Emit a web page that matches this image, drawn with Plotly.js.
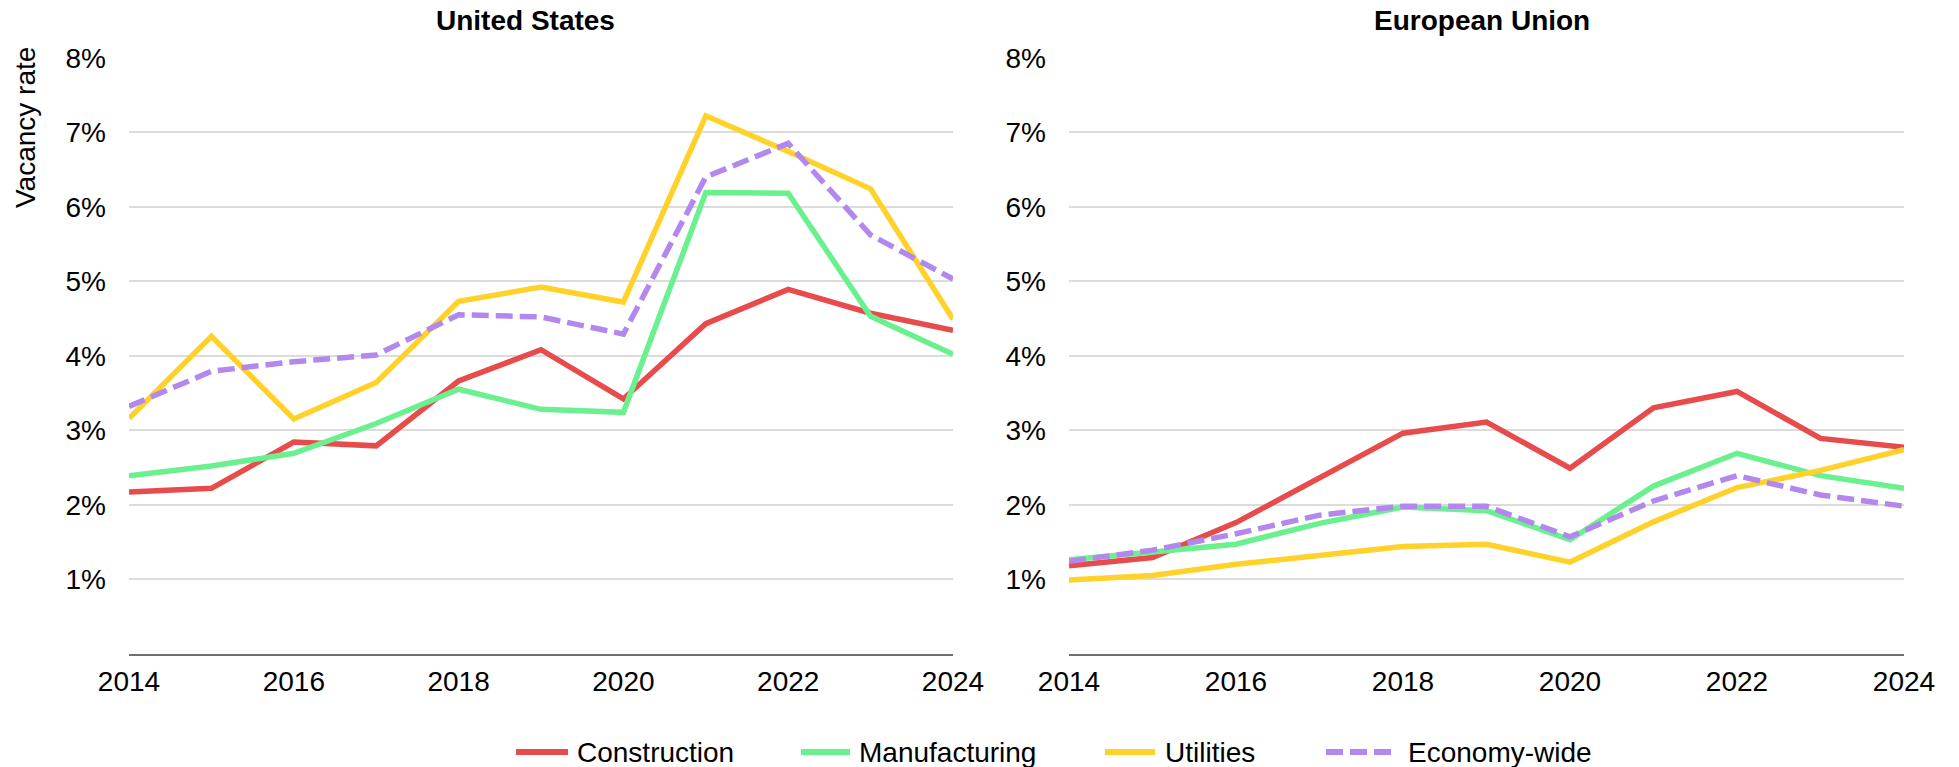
<!DOCTYPE html>
<html>
<head>
<meta charset="utf-8">
<script src="https://cdn.plot.ly/plotly-3.0.1.min.js"></script>
<style>html,body{margin:0;padding:0;background:#fff;}#chart{width:1959px;height:767px;}</style>
</head>
<body>
<div id="chart"></div>
<script>
// ---- Data ----
const years = [2014, 2015, 2016, 2017, 2018, 2019, 2020, 2021, 2022, 2023, 2024];
const seriesNames = ["Construction", "Manufacturing", "Utilities", "Economy-wide"];
const panelTitles = ["United States", "European Union"];
const yTickVals = [1, 2, 3, 4, 5, 6, 7, 8];
const yTickText = ["1%", "2%", "3%", "4%", "5%", "6%", "7%", "8%"];
const xTickVals = [2014, 2016, 2018, 2020, 2022, 2024];
const xTickText = ["2014", "2016", "2018", "2020", "2022", "2024"];

const usConstruction   = [2.17, 2.22, 2.84, 2.79, 3.66, 4.08, 3.42, 4.43, 4.89, 4.57, 4.34];
const usManufacturing  = [2.39, 2.52, 2.69, 3.09, 3.55, 3.28, 3.24, 6.19, 6.18, 4.53, 4.02];
const usUtilities      = [3.16, 4.26, 3.15, 3.64, 4.73, 4.92, 4.72, 7.22, 6.74, 6.24, 4.49];
const usEconomy        = [3.32, 3.79, 3.92, 4.01, 4.55, 4.52, 4.29, 6.40, 6.85, 5.62, 5.03];

const euConstruction   = [1.18, 1.29, 1.76, 2.36, 2.96, 3.11, 2.49, 3.30, 3.52, 2.89, 2.77];
const euManufacturing  = [1.26, 1.36, 1.47, 1.75, 1.97, 1.92, 1.53, 2.25, 2.69, 2.39, 2.22];
const euUtilities      = [0.99, 1.05, 1.20, 1.32, 1.44, 1.47, 1.23, 1.77, 2.23, 2.46, 2.74];
const euEconomy        = [1.24, 1.39, 1.61, 1.86, 1.98, 1.98, 1.57, 2.05, 2.39, 2.13, 1.98];

// ---- Styles ----
const colors = ["#E84B4B", "#6BF090", "#FFD22B", "#B388EE"];
const dashes = ["solid", "solid", "solid", "17px,7px"];
const FONT = "Liberation Sans, Arial, sans-serif";
const W = 1959, H = 767;

const usSeries = [usConstruction, usManufacturing, usUtilities, usEconomy];
const euSeries = [euConstruction, euManufacturing, euUtilities, euEconomy];

const traces = [];
[usSeries, euSeries].forEach((panel, p) => {
  panel.forEach((vals, i) => {
    traces.push({
      type: "scatter", mode: "lines",
      x: years, y: vals, name: seriesNames[i],
      xaxis: p === 0 ? "x" : "x2", yaxis: p === 0 ? "y" : "y2",
      line: {color: colors[i], width: 5.5, dash: dashes[i]},
      showlegend: false, hoverinfo: "x+y+name"
    });
  });
});

const yBottom = 1 - 653.7 / H, yTop = 1 - 57.7 / H;
function xAxis(domain, anchor) {
  return {
    domain: domain, anchor: anchor, range: [2014, 2024],
    tickvals: xTickVals, ticktext: xTickText,
    showgrid: false, zeroline: false,
    showline: true, linecolor: "#6E6E6E", linewidth: 2,
    ticks: "", ticklabelstandoff: 2,
    tickfont: {family: FONT, size: 28, color: "#000"}
  };
}
function yAxis(anchor) {
  return {
    domain: [yBottom, yTop], anchor: anchor, range: [0, 8],
    tickvals: yTickVals, ticktext: yTickText,
    showgrid: true, gridcolor: "#DCDCDC", gridwidth: 2,
    zeroline: false, showline: false, ticks: "",
    ticklabelstandoff: 22,
    tickfont: {family: FONT, size: 28, color: "#000"}
  };
}

const x1d = [129 / W, 953 / W], x2d = [1069 / W, 1904 / W];

const annotations = [
  {text: "<b>" + panelTitles[0] + "</b>", xref: "paper", yref: "paper",
   x: (x1d[0] + x1d[1]) / 2 - 16 / W, y: 1 - 21 / H, xanchor: "center", yanchor: "middle",
   showarrow: false, font: {family: FONT, size: 28, color: "#000"}},
  {text: "<b>" + panelTitles[1] + "</b>", xref: "paper", yref: "paper",
   x: (x2d[0] + x2d[1]) / 2 - 5 / W, y: 1 - 21 / H, xanchor: "center", yanchor: "middle",
   showarrow: false, font: {family: FONT, size: 28, color: "#000"}},
  {text: "Vacancy rate", xref: "paper", yref: "paper", x: 25 / W, y: 1 - 128 / H,
   xanchor: "center", yanchor: "middle", textangle: -90, showarrow: false,
   font: {family: FONT, size: 28, color: "#000"}}
];

// manual legend (long line symbols)
const legendSym = [[516, 568], [801, 850], [1105, 1155], [1326, 1392]];
const legendText = [575, 857, 1163, 1406];
const legY = 1 - 752 / H;
const shapes = [];
seriesNames.forEach((nm, i) => {
  shapes.push({type: "line", xref: "paper", yref: "paper",
    x0: legendSym[i][0] / W, x1: legendSym[i][1] / W, y0: legY, y1: legY,
    line: {color: colors[i], width: 6, dash: dashes[i]}});
  annotations.push({text: nm, xref: "paper", yref: "paper", x: legendText[i] / W, y: legY,
    xanchor: "left", yanchor: "middle", showarrow: false,
    font: {family: FONT, size: 28, color: "#000"}});
});

const layout = {
  width: W, height: H,
  margin: {l: 0, r: 0, t: 0, b: 0},
  paper_bgcolor: "#fff", plot_bgcolor: "#fff",
  showlegend: false,
  xaxis: xAxis(x1d, "y"), yaxis: yAxis("x"),
  xaxis2: xAxis(x2d, "y2"), yaxis2: yAxis("x2"),
  annotations: annotations, shapes: shapes,
  font: {family: FONT, size: 28, color: "#000"}
};

Plotly.newPlot("chart", traces, layout, {displayModeBar: false, staticPlot: true});
</script>
</body>
</html>
